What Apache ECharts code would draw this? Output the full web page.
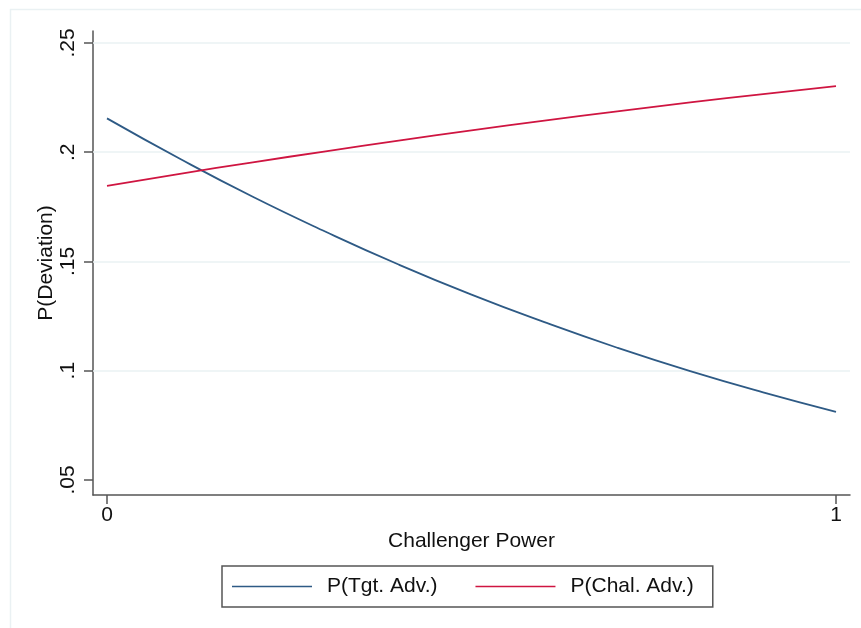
<!DOCTYPE html>
<html>
<head>
<meta charset="utf-8">
<script src="https://cdn.jsdelivr.net/npm/echarts@6/dist/echarts.min.js"></script>
<style>html,body{margin:0;padding:0;background:#fff;}#c{width:861px;height:628px;}</style>
</head>
<body>
<div id="c"></div>
<script>
// Data
const challengerPower = [0, 0.1, 0.2, 0.3, 0.4, 0.5, 0.6, 0.7, 0.8, 0.9, 1];
const pTgtAdv  = [0.2155, 0.1970, 0.1796, 0.1636, 0.1486, 0.1348, 0.1222, 0.1105, 0.0998, 0.0901, 0.0812];
const pChalAdv = [0.1846, 0.1901, 0.1954, 0.2004, 0.2053, 0.2100, 0.2145, 0.2187, 0.2228, 0.2266, 0.2303];
const yTicks = [0.05, 0.10, 0.15, 0.20, 0.25];
const yGridLines = [0.10, 0.15, 0.20, 0.25];
const xTicks = [0, 1];
const seriesNames = ['P(Tgt. Adv.)', 'P(Chal. Adv.)'];
const xTitle = 'Challenger Power';
const yTitle = 'P(Deviation)';

const font = '"Liberation Sans", Arial, sans-serif';
const blue = '#2e5a85';
const red = '#cf1541';

function fmt(v) {
  let s = String(Math.round(v * 1000) / 1000);
  if (s.startsWith('0.')) s = s.slice(1);
  return s;
}

const chart = echarts.init(document.getElementById('c'), null, {renderer: 'canvas'});
chart.setOption({
  animation: false,
  backgroundColor: '#fff',
  graphic: [{
    type: 'rect', left: 8, top: 7, shape: {width: 900, height: 700},
    style: {fill: 'none', stroke: '#eaf1f3', lineWidth: 1.5}, silent: true, z: -1
  }],
  grid: {left: 93, top: 31, right: 11, bottom: 133, containLabel: false},
  xAxis: {
    type: 'value', min: -0.0192, max: 1.0192,
    name: xTitle, nameLocation: 'middle', nameGap: 36, nameMoveOverlap: false,
    nameTextStyle: {fontFamily: font, fontSize: 21, color: '#111'},
    axisLine: {show: true, onZero: false, lineStyle: {color: '#555', width: 1.5}},
    axisTick: {show: true, length: 9, customValues: xTicks, lineStyle: {color: '#555', width: 1.5}},
    axisLabel: {customValues: xTicks, margin: 10, fontFamily: font, fontSize: 21, color: '#111', formatter: v => fmt(v)},
    splitLine: {show: false}
  },
  yAxis: {
    type: 'value', min: 0.0431, max: 0.2555,
    name: yTitle, nameLocation: 'middle', nameGap: 36, nameRotate: 90, nameMoveOverlap: false,
    nameTextStyle: {fontFamily: font, fontSize: 21, color: '#111'},
    axisLine: {show: true, onZero: false, lineStyle: {color: '#555', width: 1.5}},
    axisTick: {show: true, length: 9, customValues: yTicks, lineStyle: {color: '#555', width: 1.5}},
    axisLabel: {customValues: yTicks, rotate: 90, margin: 14, fontFamily: font, fontSize: 21, color: '#111', formatter: v => fmt(v)},
    splitLine: {show: false}
  },
  legend: {
    left: 222, top: 566, orient: 'horizontal',
    padding: [10, 19, 10, 10],
    borderColor: '#555', borderWidth: 1.5,
    itemWidth: 80, itemHeight: 20, itemGap: 38,
    icon: 'path://M0,9.25L80,9.25L80,10.75L0,10.75Z',
    textStyle: {fontFamily: font, fontSize: 21, color: '#111', padding: [0, 0, 0, 10]},
    data: seriesNames
  },
  series: [
    {
      name: seriesNames[0], type: 'line', smooth: true, symbol: 'none',
      lineStyle: {color: blue, width: 1.8}, itemStyle: {color: blue},
      data: challengerPower.map((x, i) => [x, pTgtAdv[i]]),
      markLine: {
        silent: true, symbol: 'none', label: {show: false},
        lineStyle: {color: '#eaf2f3', width: 1.5, type: 'solid'},
        data: yGridLines.map(v => ({yAxis: v})), z: 1
      },
      z: 3
    },
    {
      name: seriesNames[1], type: 'line', smooth: true, symbol: 'none',
      lineStyle: {color: red, width: 1.8}, itemStyle: {color: red},
      data: challengerPower.map((x, i) => [x, pChalAdv[i]]),
      z: 3
    }
  ]
});
</script>
</body>
</html>
